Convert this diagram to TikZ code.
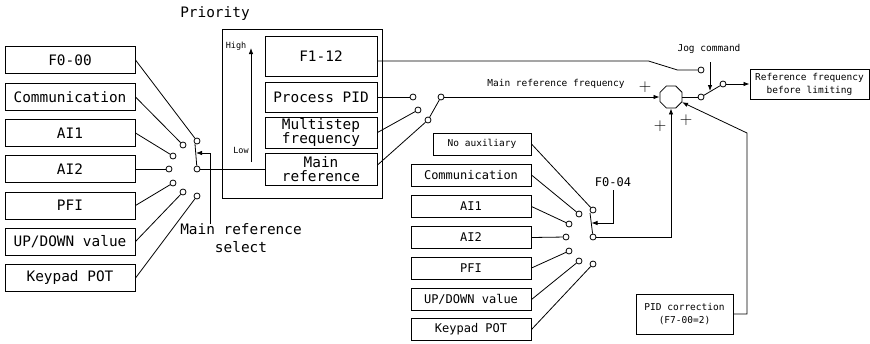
\documentclass[tikz,border=0pt]{standalone}
\usepackage{fontspec}
\setmainfont{DejaVu Sans Mono}
\usetikzlibrary{arrows.meta, shapes.geometric}
\newcommand{\bigtxt}{\fontsize{14.4}{15}\selectfont}
\newcommand{\midtxt}{\fontsize{12}{13}\selectfont}
\newcommand{\smalltxt}{\fontsize{9.5}{13}\selectfont}

\begin{document}
\begin{tikzpicture}[x=1pt, y=-1pt, line width=0.8pt,
    srcbox/.style={draw, line width=1pt, minimum width=130pt, minimum height=27pt, inner sep=0pt, font=\bigtxt},
    prbox/.style={draw, line width=1pt, minimum width=112pt, inner sep=0pt, align=center, font=\bigtxt},
    auxbox/.style={draw, line width=1pt, minimum width=120pt, minimum height=22pt, inner sep=0pt, font=\midtxt},
    notebox/.style={draw, line width=1pt, inner sep=0pt, align=center, font=\smalltxt},
    contact/.style={circle, draw, fill=white, inner sep=0pt, minimum size=6pt},
    sig/.style={-{Latex[length=6pt,width=4.5pt]}},
    plussign/.style={font=\fontsize{16}{16}\selectfont}]
\useasboundingbox (0,0) rectangle (870,343);

% main reference sources
\node[srcbox] (Lf0)   at (70,60)    {F0-00};
\node[srcbox] (Lcomm) at (70,97)    {Communication};
\node[srcbox] (Lai1)  at (70,133)   {AI1};
\node[srcbox] (Lai2)  at (70,169)   {AI2};
\node[srcbox] (Lpfi)  at (70,205.5) {PFI};
\node[srcbox] (Lupdn) at (70,241.5) {UP/DOWN value};
\node[srcbox] (Lpot)  at (70,278)   {Keypad POT};

\node[contact] (Lc1) at (197,141) {};
\node[contact] (Lc2) at (183,145) {};
\node[contact] (Lc3) at (173,156) {};
\node[contact] (Lc4) at (169,169) {};
\node[contact] (Lc5) at (173,183) {};
\node[contact] (Lc6) at (183,192) {};
\node[contact] (Lc7) at (197,196) {};
\node[contact] (Lp)  at (197,169) {};
\coordinate (Larm) at (195,144);
\coordinate (Larmmid) at (196,153);
\coordinate (Lseltop) at (210,224);

\draw (Lf0.east)   -- (Lc1);
\draw (Lcomm.east) -- (Lc2);
\draw (Lai1.east)  -- (Lc3);
\draw (Lai2.east)  -- (Lc4);
\draw (Lpfi.east)  -- (Lc5);
\draw (Lupdn.east) -- (Lc6);
\draw (Lpot.east)  -- (Lc7);
\draw (Lp) -- (Larm);
\draw[sig] (Lseltop) |- (Larmmid);
\node[font=\bigtxt, align=center, inner sep=0pt] (Lsel) at (241,238)
    {Main reference\\[3pt]select};

% priority block
\node[font=\bigtxt] (Prtitle) at (215,14) {Priority};
\node[draw, line width=1pt, minimum width=160pt, minimum height=169pt] (Prio) at (302,113.5) {};
\node[prbox, minimum height=40pt] (Pf112)  at (321,56)    {F1-12};
\node[prbox, minimum height=30pt] (Ppid)   at (321,97)    {Process PID};
\node[prbox, minimum height=31pt, font=\fontsize{14.4}{11}\selectfont] (Pmulti) at (321,132.5) {Multistep\\frequency};
\node[prbox, minimum height=32pt, font=\fontsize{14.4}{14}\selectfont] (Pmain)  at (321,169)   {Main\\reference};
\coordinate (Plow) at (251,162);
\coordinate (Phigh) at (251,48);
\draw[sig] (Plow) -- (Phigh);
\node[font=\fontsize{8.5}{9}\selectfont] (High) at (236,46)  {High};
\node[font=\fontsize{8.5}{9}\selectfont] (Low)  at (241,150) {Low};

\draw (Lp) -- (Pmain.west);

% priority switch
\node[contact] (Mc1) at (413,97)  {};
\node[contact] (Mc2) at (418,110) {};
\node[contact] (Mc3) at (428,120) {};
\node[contact] (Mp)  at (441,97)  {};
\draw (Ppid.east) -- (Mc1);
\draw (Pmulti.east) -- (Mc2);
\draw ([yshift=4pt]Pmain.east) -- (Mc3);
\draw (Mp) -- (Mc3);

% summing point
\node[regular polygon, regular polygon sides=8, draw, minimum size=24pt, inner sep=0pt] (Sum) at (671,97) {};
\draw[sig] (Mp) -- (Sum);
\node[font=\smalltxt] (Mfreq) at (556,84) {Main reference frequency};
\node[plussign] (pl1) at (645,87)  {$+$};
\node[plussign] (pl2) at (660,126) {$+$};
\node[plussign] (pl3) at (686,120) {$+$};

% jog switch
\node[contact] (Jc1)  at (701,70) {};
\node[contact] (Jc2)  at (701,97) {};
\node[contact] (Jout) at (723,84) {};
\draw ([yshift=-5pt]Pf112.east) -- ++(271,0) -- ++(29,9) -- (Jc1);
\draw (Sum) -- (Jc2);
\draw (Jc2) -- (Jout);
\node[font=\smalltxt] (Jog) at (709,49) {Jog command};
\coordinate (Jtop) at (710,62);
\coordinate (Jarm) at (710,91);
\draw[sig] (Jtop) -- (Jarm);
\node[notebox, minimum width=119pt, minimum height=30pt] (Out) at (809.5,84)
    {Reference frequency\\before limiting};
\draw[sig] (Jout) -- (Out.west);

% auxiliary sources
\node[auxbox, minimum width=98pt, font=\smalltxt] (Bnone) at (482,144) {No auxiliary};
\node[auxbox] (Bcomm) at (471,175)   {Communication};
\node[auxbox] (Bai1)  at (471,206.5) {AI1};
\node[auxbox] (Bai2)  at (471,237.5) {AI2};
\node[auxbox] (Bpfi)  at (471,268)   {PFI};
\node[auxbox] (Bupdn) at (471,299.5) {UP/DOWN value};
\node[auxbox] (Bpot)  at (471,329.5) {Keypad POT};

\node[contact] (Fc1) at (593,210) {};
\node[contact] (Fc2) at (579,214) {};
\node[contact] (Fc3) at (569,224) {};
\node[contact] (Fc4) at (566,237) {};
\node[contact] (Fc5) at (569,251) {};
\node[contact] (Fc6) at (579,261) {};
\node[contact] (Fc7) at (593,264) {};
\node[contact] (Fp)  at (593,237) {};
\coordinate (Farm) at (590,213);
\coordinate (Farmmid) at (591.5,223);

\draw (Bnone.east) -- (Fc1);
\draw (Bcomm.east) -- (Fc2);
\draw (Bai1.east)  -- (Fc3);
\draw (Bai2.east)  -- (Fc4);
\draw (Bpfi.east)  -- (Fc5);
\draw (Bupdn.east) -- (Fc6);
\draw (Bpot.east)  -- (Fc7);
\draw (Fp) -- (Farm);
\node[font=\midtxt] (F004) at (613,182) {F0-04};
\coordinate (Ftop) at (613,190);
\draw[sig] (Ftop) |- (Farmmid);
\draw[sig] (Fp) -| (Sum.south);

% PID correction
\node[notebox, minimum width=97pt, minimum height=40pt] (Pidc) at (684.5,314)
    {PID correction\\(F7-00=2)};
\coordinate (Pidbend) at (747,133);
\draw[sig] (Pidc.east) -| (Pidbend) -- (Sum);
\end{tikzpicture}
\end{document}
